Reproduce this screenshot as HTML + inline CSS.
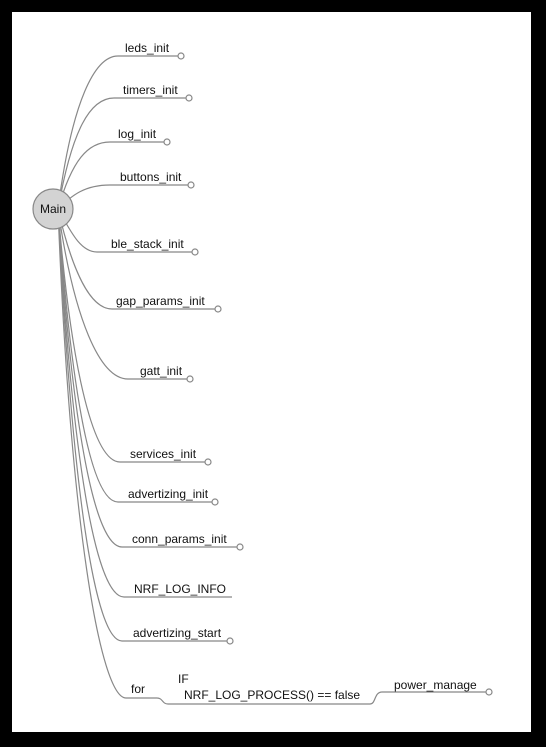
<!DOCTYPE html>
<html><head><meta charset="utf-8"><style>
html,body{margin:0;padding:0;background:#000;}
svg{display:block;}
text{font-family:"Liberation Sans",Arial,sans-serif;font-size:12px;fill:#111;}
</style></head><body>
<svg width="546" height="747" viewBox="0 0 546 747">
<rect x="0" y="0" width="546" height="747" fill="#000"/>
<rect x="12" y="12" width="519" height="720" fill="#fff"/>
<g fill="none" stroke="#888" stroke-width="1.2">
<path d="M58,209 C72,100 95,56 118,56 H178"/>
<path d="M58,209 C72,130 90,98 114,98 H186"/>
<path d="M58,209 C72,160 88,142 110,142 H164"/>
<path d="M58,209 C72,195 85,185 110,185 H188"/>
<path d="M58,209 C70,230 80,252 97,252 H192"/>
<path d="M58,209 C72,270 90,309 112,309 H215"/>
<path d="M58,209 C74,320 100,379 128,379 H187"/>
<path d="M58,209 C72,380 95,462 120,462 H205"/>
<path d="M58,209 C72,400 92,502 118,502 H212"/>
<path d="M58,209 C72,430 95,547 122,547 H237"/>
<path d="M58,209 C72,460 96,597 124,597 H232"/>
<path d="M58,209 C72,490 95,641 122,641 H227"/>
<path d="M58,209 C70,520 100,698 126,698 H157 C163,698 162,704 168,704 H370 C376,704 374,692 382,692 H486"/>
</g>
<g fill="#fff" stroke="#888" stroke-width="1.2">
<circle cx="181" cy="56" r="3"/>
<circle cx="189" cy="98" r="3"/>
<circle cx="167" cy="142" r="3"/>
<circle cx="191" cy="185" r="3"/>
<circle cx="195" cy="252" r="3"/>
<circle cx="218" cy="309" r="3"/>
<circle cx="190" cy="379" r="3"/>
<circle cx="208" cy="462" r="3"/>
<circle cx="215" cy="502" r="3"/>
<circle cx="240" cy="547" r="3"/>
<circle cx="230" cy="641" r="3"/>
<circle cx="489" cy="692" r="3"/>
</g>
<circle cx="53" cy="209" r="20" fill="#d3d3d3" stroke="#888" stroke-width="1.2"/>
<text x="40" y="213">Main</text>
<text x="125" y="52">leds_init</text>
<text x="123" y="94">timers_init</text>
<text x="118" y="138">log_init</text>
<text x="120" y="181">buttons_init</text>
<text x="111" y="248">ble_stack_init</text>
<text x="116" y="305">gap_params_init</text>
<text x="140" y="375">gatt_init</text>
<text x="130" y="458">services_init</text>
<text x="128" y="498">advertizing_init</text>
<text x="132" y="543">conn_params_init</text>
<text x="134" y="593">NRF_LOG_INFO</text>
<text x="133" y="637">advertizing_start</text>
<text x="131" y="693">for</text>
<text x="178" y="683">IF</text>
<text x="184" y="699">NRF_LOG_PROCESS() == false</text>
<text x="394" y="689">power_manage</text>
</svg>
</body></html>
